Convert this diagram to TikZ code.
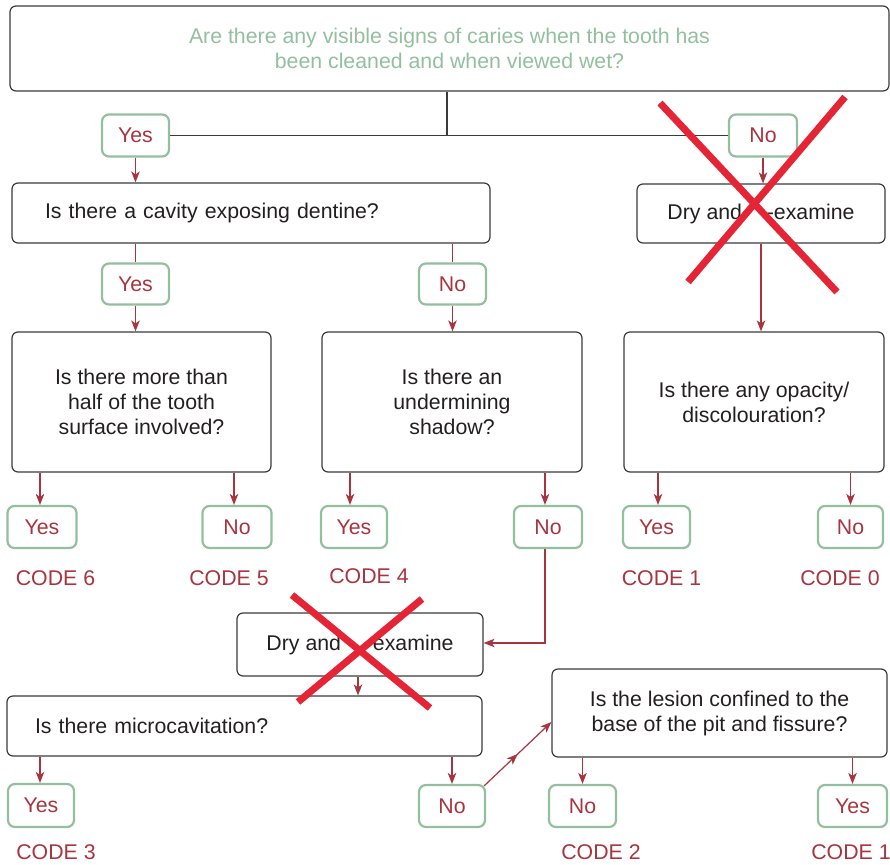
\documentclass[tikz,border=0pt]{standalone}
\usepackage{fontspec}
\setmainfont{Liberation Sans}
\usetikzlibrary{arrows.meta,decorations.markings}
\definecolor{cred}{HTML}{A8343F}
\definecolor{agreen}{HTML}{93BF9F}
\definecolor{bgray}{HTML}{3A3A3A}
\definecolor{ctext}{HTML}{231F20}
\definecolor{xred}{HTML}{E52535}
\tikzset{
  every node/.style={font=\fontsize{21.3}{25}\selectfont},
  qbox/.style={draw=bgray, line width=1.2pt, rounded corners=6pt, inner sep=0pt, align=center, text=ctext},
  lbox/.style={draw=bgray, line width=1.2pt, rounded corners=6pt, inner ysep=0pt, align=left, text=ctext},
  ans/.style={draw=agreen, line width=2.2pt, rounded corners=7pt, inner sep=0pt, text=cred},
  codelbl/.style={text=cred, inner sep=0pt},
  gline/.style={draw=bgray, line width=1.5pt},
  rline/.style={draw=cred, line width=1.2pt},
  arr/.style={rline, -{Stealth[length=11pt,width=8.5pt,inset=3pt]}},
  midarr/.style={postaction={decorate}, decoration={markings, mark=at position 0.5 with {\arrow[cred]{Stealth[length=11pt,width=8.5pt,inset=3pt]}}}},
  xline/.style={draw=xred, line width=7pt}
}
\begin{document}
\begin{tikzpicture}[x=1pt,y=-1pt]
\useasboundingbox (0,0) rectangle (890,864);
% question boxes
\node[qbox, minimum width=879pt, minimum height=85pt, text=agreen] (top) at (449.5,48.5)
  {Are there any visible signs of caries when the tooth has\\been cleaned and when viewed wet?};
\node[ans, minimum width=67pt, minimum height=42pt] (yes1) at (135.5,135.5) {Yes};
\node[ans, minimum width=68pt, minimum height=42pt] (no1) at (763,135.5) {No};
\node[lbox, text width=412pt, inner xsep=33pt, minimum height=60pt] (cav) at (251,213) {Is there a cavity exposing dentine?};
\node[qbox, minimum width=248pt, minimum height=59pt] (dry1) at (761,213.5) {Dry and \phantom{re}-examine};
\node[ans, minimum width=67pt, minimum height=41pt] (yes2) at (135.5,284) {Yes};
\node[ans, minimum width=67pt, minimum height=41pt] (no2) at (452.5,284) {No};
\node[qbox, minimum width=259pt, minimum height=140pt] (half) at (141.5,402) {Is there more than\\half of the tooth\\surface involved?};
\node[qbox, minimum width=260pt, minimum height=140pt] (und) at (452,402) {Is there an\\undermining\\shadow?};
\node[qbox, minimum width=260pt, minimum height=140pt] (opa) at (754,402) {Is there any opacity/\\discolouration?};
% answer row 1
\node[ans, minimum width=69pt, minimum height=42pt] (ya) at (42,527) {Yes};
\node[ans, minimum width=69pt, minimum height=42pt] (nb) at (237,527) {No};
\node[ans, minimum width=66pt, minimum height=42pt] (yc) at (354,527) {Yes};
\node[ans, minimum width=68pt, minimum height=42pt] (nd) at (548,527) {No};
\node[ans, minimum width=67pt, minimum height=42pt] (ye) at (656.5,527) {Yes};
\node[ans, minimum width=65pt, minimum height=42pt] (nf) at (850.5,527) {No};
\node[codelbl] (c6) at (55.5,578) {CODE 6};
\node[codelbl] (c5) at (229,578) {CODE 5};
\node[codelbl] (c4) at (369,576) {CODE 4};
\node[codelbl] (c1a) at (661.5,578) {CODE 1};
\node[codelbl] (c0) at (840,578) {CODE 0};
% lower part
\node[qbox, minimum width=246pt, minimum height=63pt] (dry2) at (360,644.5) {Dry and \phantom{re}-examine};
\node[lbox, text width=419pt, inner xsep=28pt, minimum height=60pt] (micro) at (244.5,726) {Is there microcavitation?};
\node[qbox, minimum width=335pt, minimum height=88pt] (les) at (719.5,713) {Is the lesion confined to the\\base of the pit and fissure?};
\node[ans, minimum width=66pt, minimum height=43pt] (yg) at (41,805.5) {Yes};
\node[ans, minimum width=66pt, minimum height=42pt] (ng) at (452,806) {No};
\node[ans, minimum width=67pt, minimum height=42pt] (nh) at (582.5,806) {No};
\node[ans, minimum width=69pt, minimum height=42pt] (yh) at (852.5,806) {Yes};
\node[codelbl] (c3) at (56,852) {CODE 3};
\node[codelbl] (c2) at (601,852) {CODE 2};
\node[codelbl] (c1b) at (851,852) {CODE 1};
% connectors
\draw[gline] ([xshift=-2.5pt]top.south) -- ([xshift=-2.5pt]top.south |- yes1.east);
\draw[gline] (yes1.east) -- (no1.west);
\draw[arr] (yes1.south) -- (yes1.south |- cav.north);
\draw[arr] (no1.south) -- (no1.south |- dry1.north);
\draw[arr] (dry1.south) -- (dry1.south |- opa.north);
\draw[rline] (yes2.north |- cav.south) -- (yes2.north);
\draw[arr] (yes2.south) -- (yes2.south |- half.north);
\draw[rline] (no2.north |- cav.south) -- (no2.north);
\draw[arr] (no2.south) -- (no2.south |- und.north);
\draw[arr] ([xshift=-2pt]ya.north |- half.south) -- ([xshift=-2pt]ya.north);
\draw[arr] ([xshift=-3pt]nb.north |- half.south) -- ([xshift=-3pt]nb.north);
\draw[arr] ([xshift=-4pt]yc.north |- und.south) -- ([xshift=-4pt]yc.north);
\draw[arr] ([xshift=-3pt]nd.north |- und.south) -- ([xshift=-3pt]nd.north);
\draw[arr] ([xshift=1.5pt]ye.north |- opa.south) -- ([xshift=1.5pt]ye.north);
\draw[arr] (nf.north |- opa.south) -- (nf.north);
\draw[arr] ([xshift=-3pt]nd.south) |- ([yshift=1.5pt]dry2.east);
\draw[arr] ([xshift=-2pt]dry2.south) -- ([xshift=-2pt]dry2.south |- micro.north);
\draw[arr] ([xshift=-1pt]yg.north |- micro.south) -- ([xshift=-1pt]yg.north);
\draw[arr] (ng.north |- micro.south) -- (ng.north);
\draw[arr, midarr] ([xshift=-2pt,yshift=-2pt]ng.north east) -- ([yshift=-9pt]les.west);
\draw[arr] (nh.north |- les.south) -- (nh.north);
\draw[arr] (yh.north |- les.south) -- (yh.north);
% red crosses
\draw[xline] (660,103) -- (837,292);
\draw[xline] (845,97) -- (688,282);
\draw[xline] (292,595) -- (430,708);
\draw[xline] (422,599) -- (298,702);
\end{tikzpicture}
\end{document}
